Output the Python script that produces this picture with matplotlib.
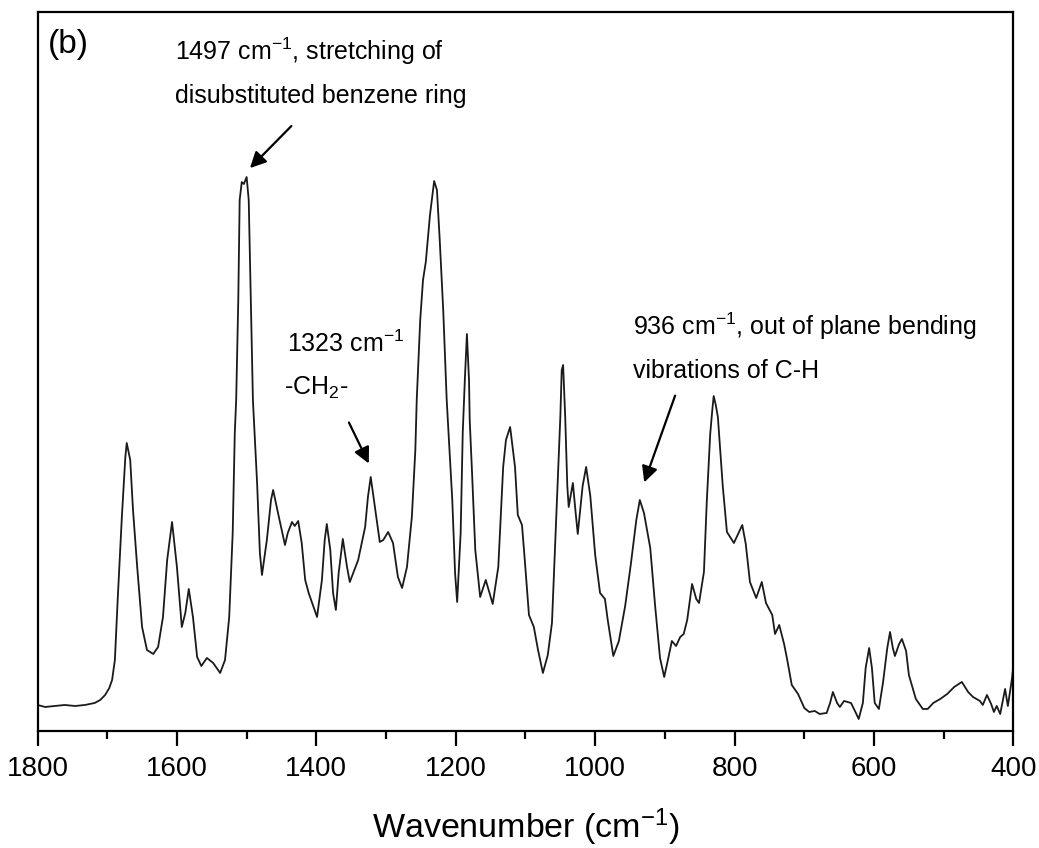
import matplotlib
matplotlib.use('Agg')
import matplotlib.pyplot as plt
from matplotlib.ticker import MultipleLocator

plt.rcParams['font.family'] = ['Liberation Sans', 'DejaVu Sans']
plt.rcParams['mathtext.fontset'] = 'custom'
plt.rcParams['mathtext.rm'] = 'Liberation Sans'
plt.rcParams['mathtext.it'] = 'Liberation Sans:italic'

# FTIR spectrum (wavenumber in cm-1, absorbance in a.u.)
wavenumber = [1800, 1789, 1775, 1761, 1746, 1732, 1718, 1710, 1703, 1697, 1693, 1689,
              1685, 1679, 1674, 1672, 1667, 1663, 1657, 1650, 1643, 1634, 1627, 1620,
              1614, 1607, 1600, 1593, 1588, 1583, 1577, 1571, 1565, 1557, 1548, 1538,
              1531, 1525, 1520, 1517, 1515, 1512, 1510, 1507, 1504, 1500, 1497, 1494,
              1491, 1485, 1481, 1478, 1471, 1465, 1462, 1455, 1445, 1441, 1435, 1431,
              1426, 1421, 1416, 1411, 1399, 1392, 1388, 1385, 1380, 1376, 1372, 1368,
              1362, 1356, 1352, 1340, 1330, 1326, 1322, 1316, 1309, 1304, 1297, 1290,
              1283, 1277, 1270, 1263, 1258, 1256, 1251, 1247, 1243, 1237, 1231, 1227,
              1223, 1218, 1213, 1205, 1201, 1198, 1193, 1190, 1187, 1184, 1181, 1180,
              1177, 1172, 1165, 1157, 1152, 1147, 1139, 1132, 1128, 1122, 1115, 1111,
              1105, 1101, 1095, 1088, 1082, 1075, 1068, 1062, 1055, 1050, 1048, 1046,
              1043, 1040, 1038, 1032, 1028, 1025, 1018, 1013, 1007, 1000, 993, 986,
              982, 974, 966, 957, 949, 941, 936, 930, 921, 914, 907, 901,
              896, 890, 884, 878, 873, 868, 861, 855, 851, 844, 840, 835,
              832, 830, 827, 824, 817, 811, 801, 789, 784, 778, 769, 761,
              755, 746, 742, 736, 729, 725, 718, 709, 700, 693, 685, 678,
              668, 663, 659, 653, 649, 643, 633, 626, 622, 616, 612, 607,
              603, 599, 593, 587, 581, 577, 573, 570, 564, 560, 554, 550,
              540, 530, 523, 515, 505, 495, 485, 474, 465, 458, 448, 444,
              438, 432, 428, 424, 419, 412, 408, 402, 400]
absorbance = [0.26, 0.24, 0.25, 0.26, 0.25, 0.26, 0.28, 0.31, 0.36, 0.43, 0.51, 0.71,
              1.31, 2.14, 2.74, 2.88, 2.71, 2.21, 1.64, 1.04, 0.81, 0.77, 0.84, 1.14,
              1.71, 2.09, 1.64, 1.04, 1.18, 1.42, 1.14, 0.74, 0.65, 0.73, 0.68, 0.58,
              0.71, 1.14, 1.98, 2.98, 3.31, 4.31, 5.31, 5.49, 5.47, 5.54, 5.31, 4.31,
              3.31, 2.48, 1.78, 1.56, 1.91, 2.31, 2.41, 2.18, 1.86, 1.98, 2.09, 2.05,
              2.10, 1.88, 1.51, 1.38, 1.14, 1.51, 1.91, 2.07, 1.81, 1.38, 1.21, 1.58,
              1.92, 1.64, 1.49, 1.71, 2.04, 2.34, 2.54, 2.24, 1.89, 1.91, 1.99, 1.88,
              1.54, 1.43, 1.64, 2.14, 2.81, 3.31, 4.11, 4.51, 4.69, 5.16, 5.50, 5.41,
              4.91, 4.21, 3.31, 2.31, 1.58, 1.29, 1.98, 2.98, 3.51, 3.97, 3.51, 3.11,
              2.64, 1.81, 1.34, 1.51, 1.39, 1.27, 1.64, 2.64, 2.91, 3.04, 2.64, 2.16,
              2.06, 1.71, 1.16, 1.04, 0.81, 0.58, 0.76, 1.08, 2.28, 3.14, 3.61, 3.66,
              3.14, 2.45, 2.24, 2.48, 2.18, 1.97, 2.45, 2.64, 2.35, 1.76, 1.38, 1.32,
              1.11, 0.75, 0.90, 1.25, 1.66, 2.11, 2.31, 2.18, 1.83, 1.25, 0.73, 0.54,
              0.70, 0.90, 0.85, 0.94, 0.97, 1.11, 1.47, 1.32, 1.28, 1.59, 2.28, 2.97,
              3.21, 3.35, 3.26, 3.14, 2.45, 1.99, 1.88, 2.06, 1.87, 1.49, 1.33, 1.49,
              1.28, 1.16, 0.97, 1.06, 0.87, 0.73, 0.46, 0.37, 0.23, 0.19, 0.20, 0.17,
              0.18, 0.28, 0.39, 0.28, 0.24, 0.30, 0.28, 0.18, 0.12, 0.28, 0.63, 0.83,
              0.63, 0.28, 0.22, 0.49, 0.83, 0.99, 0.83, 0.75, 0.87, 0.92, 0.80, 0.56,
              0.32, 0.22, 0.22, 0.28, 0.32, 0.37, 0.44, 0.49, 0.39, 0.34, 0.30, 0.26,
              0.36, 0.27, 0.19, 0.25, 0.17, 0.42, 0.25, 0.53, 0.66]

sup = r'$\mathregular{^{-1}}$'

fig = plt.figure(figsize=(10.39, 8.48), dpi=100)
ax = fig.add_axes([0.0361, 0.138, 0.9393, 0.8478])
ax.plot(wavenumber, absorbance, color='#1a1a1a', lw=1.3)

ax.set_xlim(1800, 400)
ax.set_ylim(0, 7.19)
ax.xaxis.set_major_locator(MultipleLocator(200))
ax.xaxis.set_minor_locator(MultipleLocator(100))
ax.set_yticks([])
ax.tick_params(axis='x', which='major', direction='out', length=11, width=1.6,
               labelsize=20, pad=7, top=False)
ax.tick_params(axis='x', which='minor', direction='out', length=6, width=1.6, top=False)
for s in ax.spines.values():
    s.set_linewidth(1.6)
ax.set_xlabel('Wavenumber (cm' + sup + ')', fontsize=24.5, labelpad=18)

ax.text(0.011, 0.943, '(b)', transform=ax.transAxes, fontsize=24, va='baseline')

# annotations
fs = 18
ax.text(1603, 6.71, '1497 cm' + sup + ', stretching of', fontsize=fs, va='baseline')
ax.text(1603, 6.28, 'disubstituted benzene ring', fontsize=fs, va='baseline')
ax.annotate('', xy=(1498, 5.61), xytext=(1433, 6.07),
            arrowprops=dict(arrowstyle='-|>', color='k', lw=1.6, mutation_scale=24))

ax.text(1442, 3.79, '1323 cm' + sup, fontsize=fs, va='baseline')
ax.text(1446, 3.36, '-CH$\\mathregular{_2}$-', fontsize=fs, va='baseline')
ax.annotate('', xy=(1323, 2.65), xytext=(1355, 3.11),
            arrowprops=dict(arrowstyle='-|>', color='k', lw=1.6, mutation_scale=24))

ax.text(946, 3.96, '936 cm' + sup + ', out of plane bending', fontsize=fs, va='baseline')
ax.text(946, 3.53, 'vibrations of C-H', fontsize=fs, va='baseline')
ax.annotate('', xy=(931, 2.46), xytext=(884, 3.38),
            arrowprops=dict(arrowstyle='-|>', color='k', lw=1.6, mutation_scale=24))

fig.savefig('out.png', dpi=100)
